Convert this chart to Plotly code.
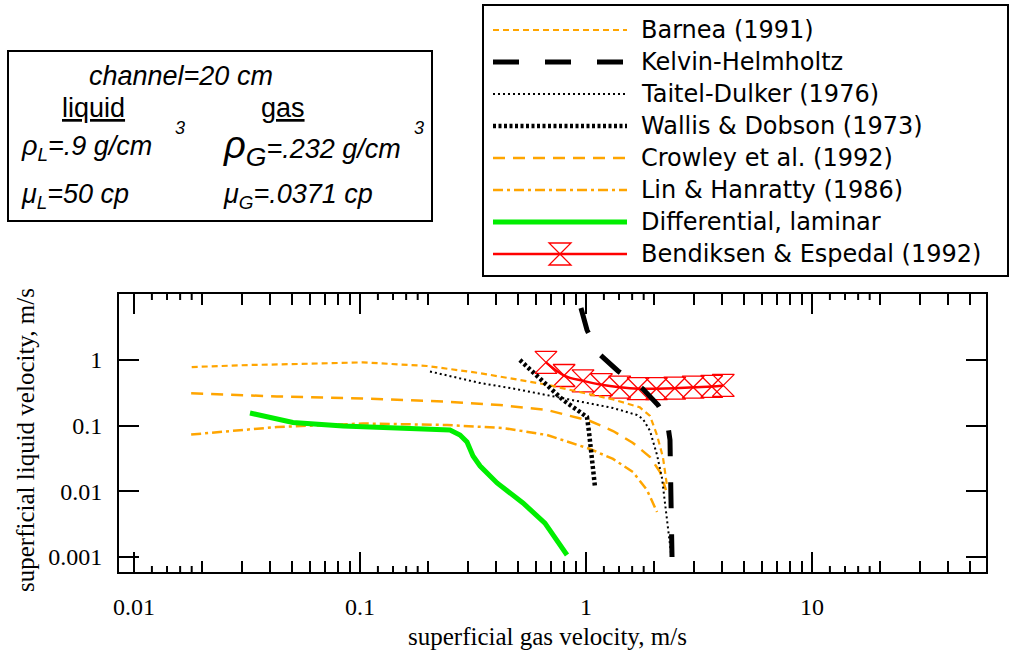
import math
import plotly.graph_objects as go

W, H = 1016, 652

# ---- flow-pattern transition boundaries -------------------------------------
# superficial gas velocity (m/s) vs superficial liquid velocity (m/s)
barnea_ug = [0.018, 0.0326, 0.0543, 0.103, 0.198, 0.34, 0.672, 1.32, 1.73, 1.92, 2.06, 2.19, 2.28]
barnea_ul = [0.78, 0.84, 0.87, 0.92, 0.81, 0.63, 0.42, 0.25, 0.19, 0.14, 0.072, 0.033, 0.0124]

kh_ug = [0.95, 1.01, 1.13, 1.385, 1.787, 2.083, 2.283, 2.353, 2.377, 2.402]
kh_ul = [6.2, 2.87, 1.28, 0.68, 0.361, 0.206, 0.122, 0.0603, 0.00734, 0.000993]

td_ug = [0.204, 0.34, 0.475, 0.672, 0.941, 1.317, 1.681, 1.787, 1.92, 2.062, 2.169, 2.237, 2.306, 2.377]
td_ul = [0.668, 0.446, 0.368, 0.293, 0.233, 0.1855, 0.145, 0.126, 0.0827, 0.0356, 0.0159, 0.00616, 0.00256, 0.00114]

wd_ug = [0.51, 0.583, 0.672, 0.791, 0.941, 1.01, 1.031, 1.063, 1.096]
wd_ul = [1.0, 0.657, 0.416, 0.2456, 0.161, 0.135, 0.08, 0.0332, 0.0116]

crowley_ug = [0.0179, 0.0429, 0.103, 0.233, 0.416, 0.672, 1.042, 1.317, 1.614, 1.92, 2.126, 2.259]
crowley_ul = [0.311, 0.278, 0.259, 0.233, 0.206, 0.173, 0.1175, 0.0827, 0.0543, 0.0332, 0.0196, 0.0104]

lin_ug = [0.0179, 0.0266, 0.0429, 0.103, 0.243, 0.429, 0.672, 1.042, 1.317, 1.614, 1.862, 2.062]
lin_ul = [0.0731, 0.0827, 0.0952, 0.1076, 0.1021, 0.0919, 0.0719, 0.044, 0.031, 0.0196, 0.0104, 0.00482]

lam_ug = [0.0326, 0.04, 0.0505, 0.0841, 0.1665, 0.25, 0.277, 0.2975, 0.3162, 0.34, 0.404, 0.526, 0.658, 0.824]
lam_ul = [0.1556, 0.1306, 0.1115, 0.0986, 0.0903, 0.0857, 0.0719, 0.0562, 0.0344, 0.0242, 0.01334, 0.00661, 0.00327, 0.001065]

be_ug = [0.665, 0.80, 0.97, 1.17, 1.41, 1.70, 2.05, 2.47, 2.98, 3.6, 4.05]
be_ul = [0.92, 0.58, 0.48, 0.42, 0.385, 0.365, 0.365, 0.372, 0.385, 0.395, 0.41]

# ---- axis ticks ----------------------------------------------------------------
x_major = [0.01, 0.1, 1, 10]
x_major_text = ["0.01", "0.1", "1", "10"]
x_minor = [m * d for d in (0.01, 0.1, 1, 10) for m in (2, 3, 4, 5, 6, 7, 8, 9)]
x_fine = [m * d for d in (0.01, 0.1, 1, 10) for m in (1.2, 1.4, 1.6, 1.8)]
y_major = [0.001, 0.01, 0.1, 1]
y_major_text = ["0.001", "0.01", "0.1", "1"]

ORANGE = "#FFA500"
series = [
    dict(name="Barnea (1991)", x=barnea_ug, y=barnea_ul,
         line=dict(color=ORANGE, width=2.2, dash="6px,4px")),
    dict(name="Kelvin-Helmholtz", x=kh_ug, y=kh_ul,
         line=dict(color="black", width=5, dash="26px,26px")),
    dict(name="Taitel-Dulker (1976)", x=td_ug, y=td_ul,
         line=dict(color="black", width=2, dash="2px,3px")),
    dict(name="Wallis & Dobson (1973)", x=wd_ug, y=wd_ul,
         line=dict(color="black", width=4.5, dash="3px,2.5px")),
    dict(name="Crowley et al. (1992)", x=crowley_ug, y=crowley_ul,
         line=dict(color=ORANGE, width=2.5, dash="12px,8px")),
    dict(name="Lin & Hanratty (1986)", x=lin_ug, y=lin_ul,
         line=dict(color=ORANGE, width=2.5, dash="10px,4px,3px,4px")),
    dict(name="Differential, laminar", x=lam_ug, y=lam_ul,
         line=dict(color="#00EE00", width=5)),
    dict(name="Bendiksen & Espedal (1992)", x=be_ug, y=be_ul,
         line=dict(color="red", width=2.5, shape="spline"),
         marker=dict(symbol="hourglass-open", size=22, color="red",
                     line=dict(color="red", width=1.3))),
]

# plot frame in pixels
PL, PR, PT, PB = 119, 986, 294, 572
# legend panel in pixels
LL, LR, LT, LB = 483, 1008, 5, 276
X_RANGE = [-2.0664, 1.7699]
Y_RANGE = [-3.2317, 1.006]


def px(x):
    return x / W


def py(y):
    return 1 - y / H


def gas_px(v):
    """pixel column of a gas velocity on the log axis"""
    return PL + (math.log10(v) - X_RANGE[0]) / (X_RANGE[1] - X_RANGE[0]) * (PR - PL)


fig = go.Figure()

# red series first so the black boundaries sit on top of it
draw_order = [7, 0, 4, 5, 6, 2, 3, 1]
for i in draw_order:
    s = series[i]
    fig.add_trace(go.Scatter(
        x=s["x"], y=s["y"], name=s["name"],
        mode="lines+markers" if "marker" in s else "lines",
        line=s["line"], marker=s.get("marker"),
        showlegend=False, hoverinfo="skip"))

shapes = [
    dict(type="rect", xref="paper", yref="paper", x0=px(8), x1=px(432), y0=py(51), y1=py(221),
         line=dict(color="black", width=2), fillcolor="rgba(0,0,0,0)"),
    dict(type="rect", xref="paper", yref="paper", x0=px(LL), x1=px(LR), y0=py(LT), y1=py(LB),
         line=dict(color="black", width=2), fillcolor="rgba(0,0,0,0)"),
]

# short intermediate ticks (1.2, 1.4, 1.6, 1.8 per decade), top and bottom
for v in x_fine:
    xp = gas_px(v)
    if PL < xp < PR:
        for y0, y1 in ((PB, PB - 6), (PT, PT + 6)):
            shapes.append(dict(type="line", xref="paper", yref="paper",
                               x0=px(xp), x1=px(xp), y0=py(y0), y1=py(y1),
                               line=dict(color="black", width=2)))

# hand-made legend: long line samples
row_y = [30, 62, 94, 126, 158, 190, 222, 254]
annotations = []
legend_font = dict(family="DejaVu Sans", size=24, color="black")
for s, ry in zip(series, row_y):
    ln = dict(s["line"])
    ln.pop("shape", None)
    shapes.append(dict(type="line", xref="paper", yref="paper",
                       x0=px(493), x1=px(627), y0=py(ry), y1=py(ry), line=ln))
    if "marker" in s:
        r = s["marker"]["size"] / 2
        cx = 560
        path = "M{a},{b} L{c},{b} L{a},{d} L{c},{d} Z".format(
            a=px(cx - r), c=px(cx + r), b=py(ry - r), d=py(ry + r))
        shapes.append(dict(type="path", xref="paper", yref="paper", path=path,
                           line=dict(color="red", width=1.3), fillcolor="rgba(0,0,0,0)"))
    annotations.append(dict(x=px(639), y=py(ry), xref="paper", yref="paper", text=s["name"],
                            showarrow=False, xanchor="left", yanchor="middle",
                            font=legend_font))

# axis titles
serif = dict(family="Liberation Serif", size=25, color="black")
annotations.append(dict(x=px(547), y=py(636), xref="paper", yref="paper",
                        text="superficial gas velocity, m/s", showarrow=False,
                        xanchor="center", yanchor="middle", font=serif))
annotations.append(dict(x=px(25), y=py(440), xref="paper", yref="paper",
                        text="superficial liquid velocity, m/s", showarrow=False,
                        textangle=-90, xanchor="center", yanchor="middle", font=serif))

# fluid-property box
box_font = dict(family="Liberation Sans", size=27, color="black")
sup_font = dict(family="Liberation Sans", size=18, color="black")
info = [
    (181, 76, "center", "<i>channel=20 cm</i>", box_font),
    (93, 108, "center", "<u>liquid</u>", box_font),
    (283, 108, "center", "<u>gas</u>", box_font),
    (19, 148, "left", "<i>ρ<sub>L</sub>=.9 g/cm</i>", box_font),
    (180, 128, "center", "<i>3</i>", sup_font),
    (221, 148, "left", "<i><span style='font-size:38px'>ρ<sub>G</sub></span>=.232 g/cm</i>", box_font),
    (419, 128, "center", "<i>3</i>", sup_font),
    (19, 196, "left", "<i>μ<sub>L</sub>=50 cp</i>", box_font),
    (221, 196, "left", "<i>μ<sub>G</sub>=.0371 cp</i>", box_font),
]
for x, y, anchor, text, font in info:
    annotations.append(dict(x=px(x), y=py(y), xref="paper", yref="paper", text=text,
                            showarrow=False, xanchor=anchor, yanchor="middle", font=font))

tickfont = dict(family="Liberation Serif", size=24, color="black")

fig.update_layout(
    width=W, height=H,
    margin=dict(l=0, r=0, t=0, b=0),
    paper_bgcolor="white", plot_bgcolor="white",
    showlegend=False,
    xaxis=dict(type="log", domain=[px(PL), px(PR)], range=X_RANGE,
               showline=True, linecolor="black", linewidth=2, mirror="ticks",
               ticks="inside", ticklen=20, tickwidth=2, tickcolor="black",
               tickvals=x_major, ticktext=x_major_text,
               minor=dict(tickvals=x_minor, ticks="inside", ticklen=11, tickwidth=2,
                          tickcolor="black", showgrid=False),
               showgrid=False, zeroline=False, automargin=False,
               tickfont=tickfont, ticklabelstandoff=12),
    yaxis=dict(type="log", domain=[py(PB), py(PT)], range=Y_RANGE,
               showline=True, linecolor="black", linewidth=2, mirror="ticks",
               ticks="inside", ticklen=20, tickwidth=2, tickcolor="black",
               tickvals=y_major, ticktext=y_major_text,
               showgrid=False, zeroline=False, automargin=False,
               tickfont=tickfont, ticklabelstandoff=10),
    annotations=annotations,
    shapes=shapes,
)

fig.write_html("out.html")
